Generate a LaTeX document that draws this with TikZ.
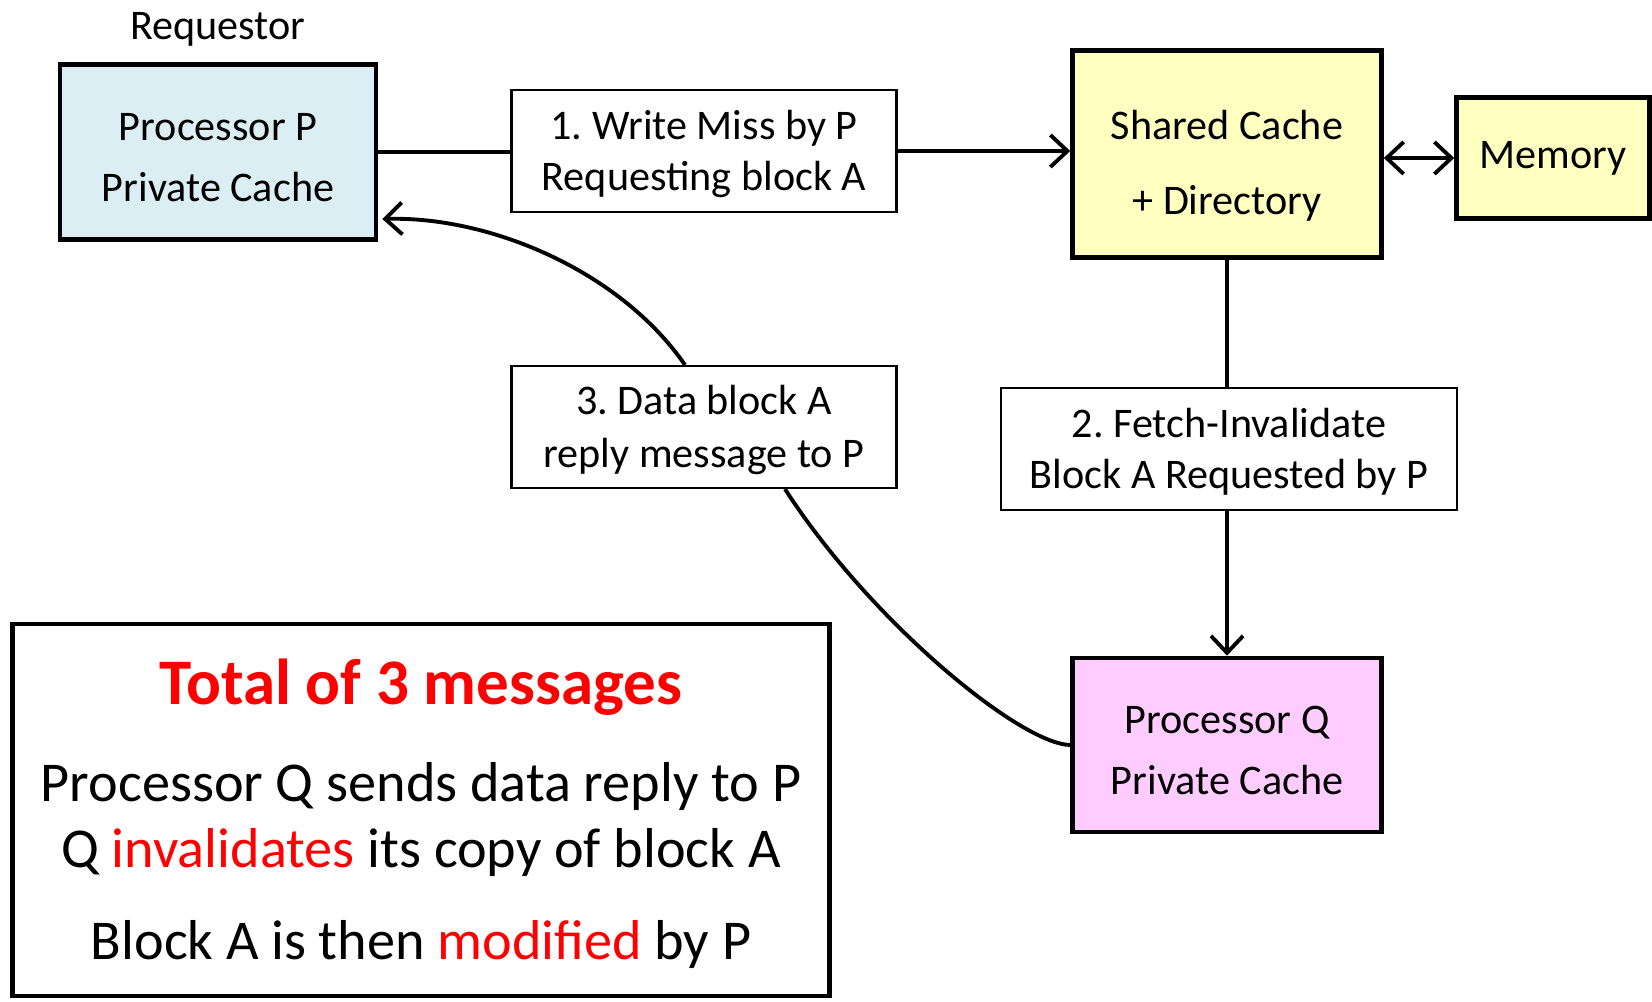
\documentclass[tikz,border=0pt]{standalone}
\usepackage{fontspec}
\setmainfont{Carlito}
\usetikzlibrary{arrows.meta}
\frenchspacing

\definecolor{pblue}{RGB}{218,238,243}
\definecolor{shyellow}{RGB}{255,255,192}
\definecolor{qpink}{RGB}{255,204,255}
\definecolor{msgred}{RGB}{255,0,0}

\begin{document}
\begin{tikzpicture}[>={Straight Barb[length=1.7mm,width=3.2mm]}, line width=1.1pt,
  unit/.style={draw, line width=1.3pt, inner sep=0pt, align=center, font=\fontsize{12}{17.4}\selectfont},
  msg/.style={draw, fill=white, line width=0.6pt, inner sep=0pt, align=center, minimum height=1.22cm, font=\fontsize{12}{14.4}\selectfont},
  note/.style={anchor=base, font=\fontsize{16}{19}\selectfont}]
\useasboundingbox (0,0) rectangle (16.52,10.01);
\node[font=\fontsize{12}{14}\selectfont] (req) at (2.18,9.72) {Requestor};
\node[unit, fill=pblue, minimum width=3.16cm, minimum height=1.75cm] (p) at (2.18,8.49) {\rule{0pt}{11pt}Processor P\\Private Cache};
\node[unit, fill=shyellow, minimum width=3.09cm, minimum height=2.07cm, font=\fontsize{12}{21.3}\selectfont] (shared) at (12.27,8.47) {\rule{0pt}{15pt}Shared Cache\\+ Directory};
\node[unit, fill=shyellow, minimum width=1.93cm, minimum height=1.21cm] (mem) at (15.53,8.43) {Memory};
\node[unit, fill=qpink, minimum width=3.09cm, minimum height=1.74cm] (q) at (12.27,2.56) {\rule{0pt}{11pt}Processor Q\\Private Cache};
\node[msg, minimum width=3.85cm] (w1) at (7.04,8.50) {\rule{0pt}{10pt}1. Write Miss by P\\Requesting block A};
\node[msg, minimum width=4.56cm] (w2) at (12.29,5.52) {\rule{0pt}{10pt}2. Fetch-Invalidate\\Block A Requested by P};
\node[msg, minimum width=3.85cm, font=\fontsize{12}{15}\selectfont] (w3) at (7.04,5.74) {\rule{0pt}{10pt}3. Data block A\\reply message to P};
\draw (p.east) -- (w1.west |- p.east);
\draw[->] (w1.east) -- (shared.west |- w1.east);
\draw[<->] (shared.east |- mem.west) -- (mem.west);
\draw (shared.south) -- (w2.north -| shared.south);
\draw[->] (w2.south -| q.north) -- (q.north);
\draw (q.west) .. controls (10.2,2.57) and (8.7,3.8) .. ([xshift=0.81cm]w3.south);
\draw[->] ([xshift=-0.19cm]w3.north) .. controls (6.2,7.3) and (4.9,7.85) .. ([xshift=0.04cm,yshift=-0.67cm]p.east);
\node[draw, line width=1.3pt, minimum width=8.17cm, minimum height=3.72cm] (sum) at (4.21,1.91) {};
\node[anchor=base, text=msgred, font=\fontsize{18.5}{22}\selectfont\bfseries] (total) at (4.21,2.97) {Total of 3 messages};
\node[note] (l1) at (4.21,2.00) {Processor Q sends data reply to P};
\node[note] (l2) at (4.21,1.34) {Q \textcolor{msgred}{invalidates} its copy of block A};
\node[note] (l3) at (4.21,0.42) {Block A is then \textcolor{msgred}{modified} by P};
\end{tikzpicture}
\end{document}
